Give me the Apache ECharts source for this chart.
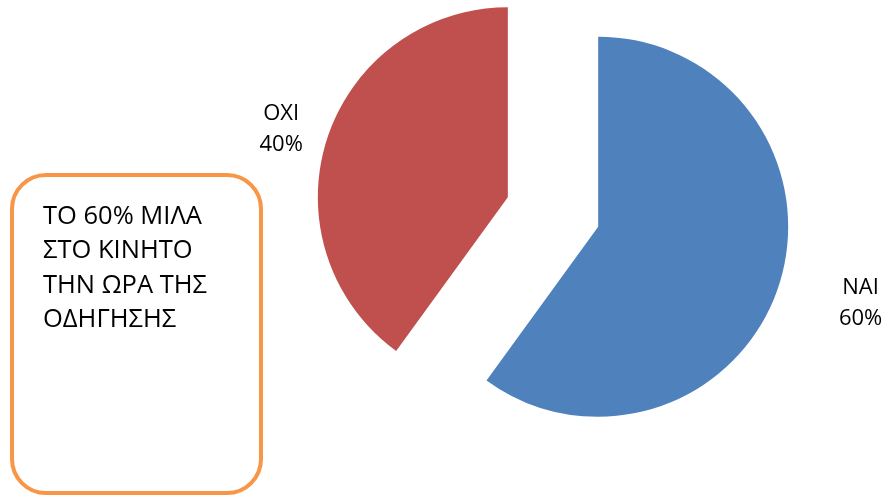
<!DOCTYPE html>
<html>
<head>
<meta charset="utf-8">
<script src="https://cdn.jsdelivr.net/npm/echarts@6/dist/echarts.min.js"></script>
<style>
  html, body { margin: 0; padding: 0; background: #fff; }
  #chart { width: 891px; height: 497px; }
</style>
</head>
<body>
<div id="chart"></div>
<script>
// κατηγορίες και ποσοστά
const categories = ['ΝΑΙ', 'ΟΧΙ'];
const values = [60, 40];
const colors = ['#4F81BD', '#C0504D'];
// μήκος γραμμής ετικέτας ανά κομμάτι (η γραμμή δεν φαίνεται)
const lineLen = [57, 31];
const lineLen2 = [0, -11];
const noteText = 'ΤΟ 60% ΜΙΛΑ\nΣΤΟ ΚΙΝΗΤΟ\nΤΗΝ ΩΡΑ ΤΗΣ\nΟΔΗΓΗΣΗΣ';

const chart = echarts.init(document.getElementById('chart'));

const pieData = categories.map((name, i) => {
  return {
    name: name,
    value: values[i],
    selected: true,
    itemStyle: { color: colors[i] },
    select: { itemStyle: { color: colors[i], borderWidth: 0 } },
    labelLine: { show: false, length: lineLen[i], length2: lineLen2[i] }
  };
});

chart.setOption({
  animation: false,
  backgroundColor: '#ffffff',
  series: [{
    type: 'pie',
    center: [553, 212],
    radius: [0, 190],
    startAngle: 90,
    clockwise: true,
    selectedMode: 'multiple',
    selectedOffset: 47.5,
    avoidLabelOverlap: false,
    emphasis: { disabled: true },
    itemStyle: { borderWidth: 0 },
    label: {
      show: true,
      position: 'outside',
      formatter: '{t|{b}\n{d}%}',
      rich: {
        t: {
          width: 45,
          align: 'center',
          fontFamily: 'Open Sans',
          fontSize: 22,
          lineHeight: 31,
          color: '#000000'
        }
      }
    },
    labelLine: { show: false },
    data: pieData
  }],
  graphic: [{
    type: 'group',
    left: 10,
    top: 173,
    children: [{
      type: 'rect',
      shape: { x: 0, y: 0, width: 249, height: 318, r: 34 },
      style: { fill: '#ffffff', stroke: '#F79646', lineWidth: 4 }
    }, {
      type: 'text',
      x: 31,
      y: 24,
      style: {
        text: noteText,
        fontFamily: 'Open Sans',
        fontSize: 25.5,
        lineHeight: 34.5,
        fill: '#000000'
      }
    }]
  }]
});
</script>
</body>
</html>
